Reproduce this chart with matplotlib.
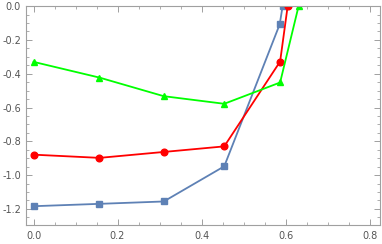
import numpy as np
import matplotlib
matplotlib.use("Agg")
import matplotlib.pyplot as plt
from matplotlib.ticker import MultipleLocator

# series
x_green = [0.0, 0.157, 0.31, 0.454, 0.587, 0.631]
y_green = [-0.33, -0.423, -0.533, -0.578, -0.452, 0.0]

x_red = [0.0, 0.157, 0.31, 0.454, 0.587, 0.605]
y_red = [-0.879, -0.898, -0.863, -0.830, -0.328, 0.0]

x_blue = [0.0, 0.157, 0.31, 0.454, 0.586, 0.593]
y_blue = [-1.184, -1.170, -1.156, -0.948, -0.108, 0.0]

frame_col = "#a0a0a0"
label_col = "#555555"

fig = plt.figure(figsize=(3.82, 2.44), dpi=100)
ax = fig.add_axes([0.068, 0.078, 0.927, 0.897])

ax.plot(x_blue, y_blue, "-s", color="#5E81B5", lw=1.3, ms=4.2)
ax.plot(x_red, y_red, "-o", color="#FF0000", lw=1.3, ms=4.8)
ax.plot(x_green, y_green, "-^", color="#00FF00", lw=1.3, ms=5)

ax.set_xlim(-0.018, 0.825)
ax.set_ylim(-1.295, 0.0)

ax.xaxis.set_major_locator(MultipleLocator(0.2))
ax.xaxis.set_minor_locator(MultipleLocator(0.05))
ax.yaxis.set_major_locator(MultipleLocator(0.2))
ax.yaxis.set_minor_locator(MultipleLocator(0.05))
ax.xaxis.set_major_formatter(lambda v, p: f"{v:.1f}")
ax.yaxis.set_major_formatter(lambda v, p: f"{abs(v):.1f}" if abs(v) < 1e-9 else f"{v:.1f}")

ax.tick_params(which="both", direction="in", top=True, right=True,
               color=frame_col, labelcolor=label_col, labelsize=7)
ax.tick_params(axis="y", pad=3.5)
ax.tick_params(axis="x", pad=4)
ax.tick_params(which="major", length=4, width=0.7)
ax.tick_params(which="minor", length=2, width=0.6)
for s in ax.spines.values():
    s.set_color(frame_col)
    s.set_linewidth(0.8)

fig.savefig("out.png", dpi=100)
